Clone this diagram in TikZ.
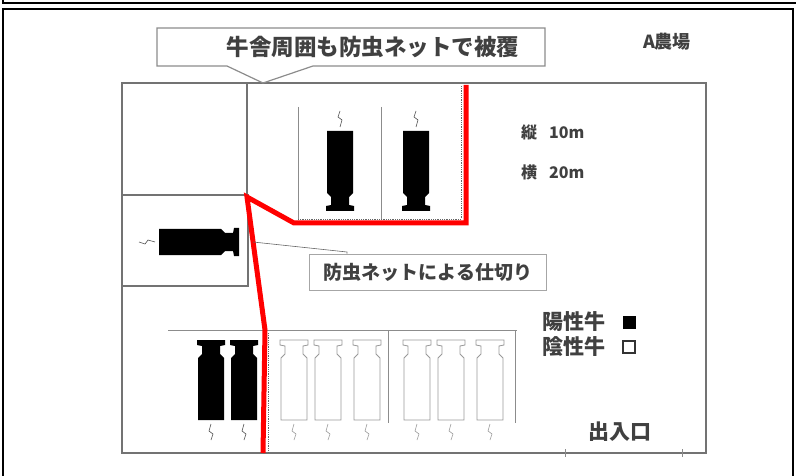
\documentclass[tikz,border=0pt]{standalone}
\usepackage{fontspec}
\newfontfamily\jp{Noto Sans CJK JP}
\usetikzlibrary{positioning}

\begin{document}
\begin{tikzpicture}[x=1pt, y=-1pt, font=\jp,
    wall/.style   = {draw = black!55, line width = 1.6pt},
    stall/.style  = {draw = black!45, line width = 1pt},
    net/.style    = {draw = red, line width = 5pt},
    mesh/.style   = {draw = black!60, densely dotted, line width = 0.8pt},
    posicow/.style= {fill = black},
    negacow/.style= {draw = black!40, fill = white, line width = 0.8pt},
    tailline/.style = {draw = black!70, line width = 0.6pt},
    label/.style  = {text = black!75, inner sep = 0pt}]
    \useasboundingbox (0,0) rectangle (796,476);

    \def\cow  {(-14,0) -- (14,0) -- (14,5) -- (9,6) -- (9,14) -- (13,18) -- (13,80)
               -- (-13,80) -- (-13,18) -- (-9,14) -- (-9,6) -- (-14,5) -- cycle}
    \def\tail {(0,84) -- (-2,91) -- (2,94) -- (0,100)}

    % Frame of the page
    \draw[line width = 1.6pt] (3,0) -- (3,3) -- (796,3);
    \draw[line width = 1.6pt] (3,476) -- (3,9) -- (793,9) -- (793,476);

    % Barn and pens
    \draw[wall] (122,83) rectangle (706,453);       % Outer wall of the barn
    \draw[wall] (247,83) -- (247,195);               % Corner room
    \draw[wall] (122,195) -- (248,195) -- (248,286) -- (122,286);  % Single pen

    \draw[stall] (298,107) -- (298,220);              % Upper stalls
    \draw[stall] (381,107) -- (381,220);
    \draw[stall] (168,330) -- (517,330);              % Lower stalls
    \draw[stall] (388,330) -- (388,423);
    \draw[stall] (515,330) -- (515,423);

    % Doorway marks
    \draw[stall] (565,449) -- (565,457);
    \draw[stall] (682,449) -- (682,457);

    % Positive cows in the upper stalls
    \foreach \x in {340, 416} {
        \begin{scope}[shift={(\x,211)}, rotate=180]
            \fill[posicow] \cow;
            \draw[tailline] \tail;
        \end{scope}
    }

    % Positive cow in the single pen
    \begin{scope}[shift={(239,242)}, rotate=-90]
        \fill[posicow] \cow;
        \draw[tailline] \tail;
    \end{scope}

    % Positive cows in the lower stalls
    \foreach \x in {211, 244} {
        \begin{scope}[shift={(\x,340)}]
            \fill[posicow] \cow;
            \draw[tailline] \tail;
        \end{scope}
    }

    % Negative cows in the lower stalls
    \foreach \x in {294, 328, 367, 417, 451, 490} {
        \begin{scope}[shift={(\x,340)}]
            \filldraw[negacow] \cow;
            \draw[tailline, draw = black!40] \tail;
        \end{scope}
    }

    % Insect net partition
    \draw[mesh] (298,219) -- (461,219) -- (461,86);
    \draw[mesh] (268,333) -- (268,452);
    \draw[net] (466,85) -- (466,223) -- (294,223) -- (247,197) -- (265,330) -- (263,453);

    % Callout: the whole barn is covered
    \draw[stall, line width = 1.2pt] (157,28) -- (545,28) -- (545,66) -- (313,66)
        -- (263,83) -- (227,66) -- (157,66) -- cycle;
    \node[label, font = \jp\bfseries\fontsize{22.5}{22.5}\selectfont] (cover) at (373,47) {牛舎周囲も防虫ネットで被覆};

    % Callout: partition by the net
    \node[draw = black!35, line width = 1pt, minimum width = 237pt, minimum height = 36pt,
          font = \jp\bfseries\fontsize{19}{19}\selectfont, text = black!75] (partition) at (428,272)
          {防虫ネットによる仕切り};
    \coordinate (pen) at (253,242);
    \draw[black!60, line width = 0.6pt] (pen) -- (347,252) -- (partition.north -| 347,0);

    % Farm name and size
    \node[label, font = \jp\bfseries\fontsize{18}{18}\selectfont] (farm) at (667,42) {A農場};
    \node[label, font = \jp\bfseries\fontsize{16}{16}\selectfont, anchor = west] (length) at (521,132) {縦\hspace{12pt}10m};
    \node[label, font = \jp\bfseries\fontsize{16}{16}\selectfont, anchor = west] (width) at (521,172) {横\hspace{12pt}20m};

    % Legend
    \node[label, font = \jp\bfseries\fontsize{21}{21}\selectfont, anchor = west] (posi) at (542,322) {陽性牛};
    \node[label, font = \jp\bfseries\fontsize{21}{21}\selectfont, anchor = west] (nega) at (542,347) {陰性牛};
    \node[fill = black, minimum size = 13pt, inner sep = 0pt, right = 17pt of posi] (posibox) {};
    \node[draw = black!80, line width = 1.5pt, minimum size = 12pt, inner sep = 0pt, right = 17pt of nega] (negabox) {};

    % Entrance
    \node[label, font = \jp\bfseries\fontsize{21}{21}\selectfont] (gate) at (620,432) {出入口};
\end{tikzpicture}
\end{document}
